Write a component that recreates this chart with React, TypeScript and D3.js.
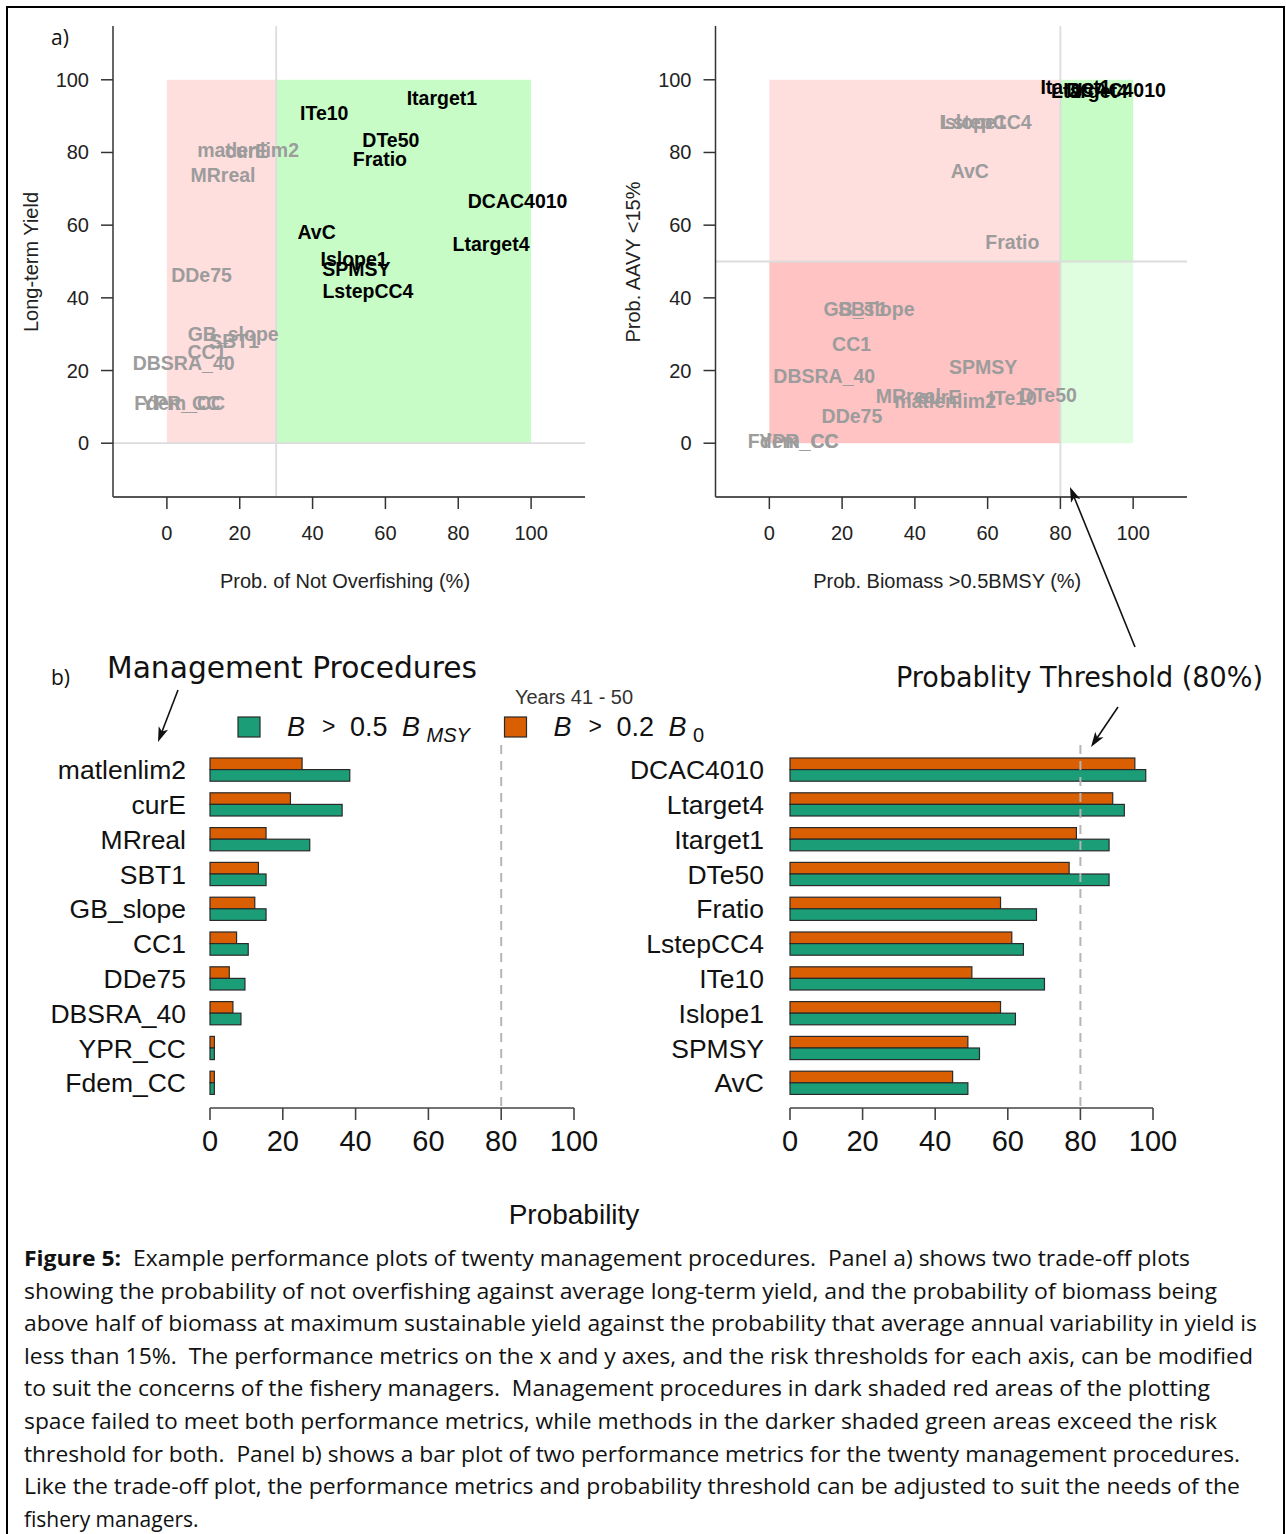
import React from "react";
import * as d3 from "d3";

const W = 1286;
const H = 1534;

// ---------- Panel a) trade-off data ----------
const tradeoffMPs = [
  "matlenlim2", "curE", "MRreal", "SBT1", "GB_slope", "CC1", "DDe75", "DBSRA_40", "YPR_CC", "Fdem_CC",
  "DCAC4010", "Ltarget4", "Itarget1", "DTe50", "Fratio", "LstepCC4", "ITe10", "Islope1", "SPMSY", "AvC",
];
const probNotOverfishing = [22.3, 21.9, 15.4, 18.5, 18.2, 11.0, 9.5, 4.6, 3.8, 3.5, 96.3, 89.0, 75.5, 61.5, 58.5, 55.2, 43.2, 51.4, 52.0, 41.1];
const longTermYield = [80.6, 80.4, 73.9, 28.0, 30.0, 25.0, 46.3, 22.2, 11.0, 11.2, 66.6, 54.8, 95.1, 83.5, 78.3, 41.8, 91.0, 50.7, 47.9, 58.1];
const probBiomassHalfBMSY = [48.3, 46.8, 38.2, 25.7, 27.4, 22.6, 22.7, 15.1, 8.1, 6.6, 95.3, 88.0, 84.2, 76.7, 66.8, 59.6, 66.9, 56.0, 58.8, 55.1];
const probAAVY15 = [11.7, 12.6, 12.9, 37.0, 36.9, 27.4, 7.4, 18.4, 0.5, 0.5, 97.1, 96.8, 98.0, 13.3, 55.3, 88.3, 12.4, 88.3, 21.0, 74.8];
const scatterTicks = [0, 20, 40, 60, 80, 100];

// ---------- Panel b) bar data ----------
const leftMPs = ["matlenlim2", "curE", "MRreal", "SBT1", "GB_slope", "CC1", "DDe75", "DBSRA_40", "YPR_CC", "Fdem_CC"];
const leftB02B0 = [25.3, 22.1, 15.4, 13.3, 12.3, 7.3, 5.3, 6.3, 1.2, 1.2];
const leftB05BMSY = [38.4, 36.3, 27.4, 15.4, 15.4, 10.5, 9.6, 8.5, 1.2, 1.2];
const rightMPs = ["DCAC4010", "Ltarget4", "Itarget1", "DTe50", "Fratio", "LstepCC4", "ITe10", "Islope1", "SPMSY", "AvC"];
const rightB02B0 = [95.0, 88.9, 78.9, 76.9, 58.0, 61.1, 50.1, 58.0, 49.0, 44.8];
const rightB05BMSY = [98.0, 92.1, 87.9, 87.9, 67.9, 64.3, 70.1, 62.1, 52.2, 49.0];
const barTicks = [0, 20, 40, 60, 80, 100];
const seriesKeys = ["b02", "b05"];
const threshold = 80;

const captionLines = [
  "showing the probability of not overfishing against average long-term yield, and the probability of biomass being",
  "above half of biomass at maximum sustainable yield against the probability that average annual variability in yield is",
  "less than 15%.  The performance metrics on the x and y axes, and the risk thresholds for each axis, can be modified",
  "to suit the concerns of the fishery managers.  Management procedures in dark shaded red areas of the plotting",
  "space failed to meet both performance metrics, while methods in the darker shaded green areas exceed the risk",
  "threshold for both.  Panel b) shows a bar plot of two performance metrics for the twenty management procedures.",
  "Like the trade-off plot, the performance metrics and probability threshold can be adjusted to suit the needs of the",
  "fishery managers.",
];
const captionEnds = [1217, 1257, 1253, 1210, 1217, 1240, 1240, 0];

const SANS = "'Liberation Sans', Arial, Helvetica, sans-serif";
const HUM = "'Open Sans', 'Noto Sans', sans-serif";
const TITLE = "'DejaVu Sans', Verdana, sans-serif";

const GREEN = "#1B9E77";
const ORANGE = "#D95F02";
const PINK = "#FFDEDE";
const RED = "#FFC3C3";
const LGREEN = "#C7FCC7";
const PGREEN = "#DFFDDF";
const GRAYTXT = "#9c9c9c";

function Scatter({ x0, x1, xs, ys, xThr, yThr, xTitle, yTitle, yTitleX }) {
  const xScale = d3.scaleLinear().domain([-14.8, 114.8]).range([x0, x1]);
  const yScale = d3.scaleLinear().domain([-14.8, 114.8]).range([497, 26]);
  const rects = [];
  if (yThr == null) {
    rects.push({ a: 0, b: xThr, c: 0, d: 100, fill: PINK });
    rects.push({ a: xThr, b: 100, c: 0, d: 100, fill: LGREEN });
  } else {
    rects.push({ a: 0, b: xThr, c: yThr, d: 100, fill: PINK });
    rects.push({ a: 0, b: xThr, c: 0, d: yThr, fill: RED });
    rects.push({ a: xThr, b: 100, c: yThr, d: 100, fill: LGREEN });
    rects.push({ a: xThr, b: 100, c: 0, d: yThr, fill: PGREEN });
  }
  const hY = yThr == null ? 0 : yThr;
  return (
    <g>
      {rects.map((r, i) => (
        <rect key={i} x={xScale(r.a)} y={yScale(r.d)} width={xScale(r.b) - xScale(r.a)} height={yScale(r.c) - yScale(r.d)} fill={r.fill} />
      ))}
      <line x1={xScale(xThr)} x2={xScale(xThr)} y1={26} y2={497} stroke="#dcdcdc" strokeWidth={1.8} />
      <line x1={x0} x2={x1} y1={yScale(hY)} y2={yScale(hY)} stroke="#dcdcdc" strokeWidth={1.8} />
      <line x1={x0} x2={x0} y1={26} y2={497} stroke="#333" strokeWidth={1.5} />
      <line x1={x0} x2={x1} y1={497} y2={497} stroke="#555" strokeWidth={2} />
      {scatterTicks.map((t) => (
        <g key={"x" + t}>
          <line x1={xScale(t)} x2={xScale(t)} y1={497} y2={509} stroke="#333" strokeWidth={1.5} />
          <text x={xScale(t)} y={540} textAnchor="middle" fontFamily={SANS} fontSize={20} fill="#222">{t}</text>
        </g>
      ))}
      {scatterTicks.map((t) => (
        <g key={"y" + t}>
          <line x1={x0} x2={x0 - 12} y1={yScale(t)} y2={yScale(t)} stroke="#333" strokeWidth={1.5} />
          <text x={x0 - 24} y={yScale(t) + 7} textAnchor="end" fontFamily={SANS} fontSize={20} fill="#222">{t}</text>
        </g>
      ))}
      <text x={(x0 + x1) / 2 - 4} y={588} textAnchor="middle" fontFamily={SANS} fontSize={20} fill="#222">{xTitle}</text>
      <text transform={`translate(${yTitleX},262) rotate(-90)`} textAnchor="middle" dominantBaseline="central" fontFamily={SANS} fontSize={20} fill="#222">{yTitle}</text>
      {tradeoffMPs.map((mp, i) => {
        const ok = xs[i] >= xThr && (yThr == null || ys[i] >= yThr);
        return (
          <text key={mp} x={xScale(xs[i])} y={yScale(ys[i])} dy="0.36em" textAnchor="middle" fontFamily={SANS} fontWeight="bold" fontSize={19.5} fill={ok ? "#000" : GRAYTXT}>
            {mp}
          </text>
        );
      })}
    </g>
  );
}

function Bars({ mps, b02, b05, x0, x1, labelX }) {
  const xScale = d3.scaleLinear().domain([0, 100]).range([x0, x1]);
  const yBand = d3.scaleBand().domain(mps).range([758, 1094.4]).paddingInner(1 / 3).paddingOuter(0);
  const inner = d3.scaleBand().domain(seriesKeys).range([0, yBand.bandwidth()]);
  const vals = { b02, b05 };
  const fills = { b02: ORANGE, b05: GREEN };
  return (
    <g>
      {mps.map((mp, i) => (
        <g key={mp}>
          <text x={labelX} y={yBand(mp) + inner.bandwidth() + 9.5} textAnchor="end" fontFamily={SANS} fontSize={26.5} fill="#111">{mp}</text>
          {seriesKeys.map((k) => (
            <rect key={k} x={xScale(0)} y={yBand(mp) + inner(k)} width={xScale(vals[k][i]) - xScale(0)} height={inner.bandwidth()} fill={fills[k]} stroke="#2a2a2a" strokeWidth={1.2} />
          ))}
        </g>
      ))}
      <line x1={xScale(threshold)} x2={xScale(threshold)} y1={745} y2={1108} stroke="#b5b5b5" strokeWidth={2} strokeDasharray="9,7" />
      <line x1={xScale(0)} x2={xScale(100)} y1={1108} y2={1108} stroke="#444" strokeWidth={1.6} />
      {barTicks.map((t) => (
        <g key={t}>
          <line x1={xScale(t)} x2={xScale(t)} y1={1108} y2={1120} stroke="#444" strokeWidth={1.6} />
          <text x={xScale(t)} y={1150.5} textAnchor="middle" fontFamily={SANS} fontSize={29} fill="#111">{t}</text>
        </g>
      ))}
    </g>
  );
}

function Arrow({ x1, y1, x2, y2 }) {
  const ang = Math.atan2(y2 - y1, x2 - x1);
  const L = 15;
  const hw = 5;
  const bx = x2 - L * Math.cos(ang);
  const by = y2 - L * Math.sin(ang);
  const px = -Math.sin(ang) * hw;
  const py = Math.cos(ang) * hw;
  const path = d3.path();
  path.moveTo(x2, y2);
  path.lineTo(bx + px, by + py);
  path.lineTo(bx + (x2 - bx) * 0.25, by + (y2 - by) * 0.25);
  path.lineTo(bx - px, by - py);
  path.closePath();
  return (
    <g>
      <line x1={x1} y1={y1} x2={bx + (x2 - bx) * 0.3} y2={by + (y2 - by) * 0.3} stroke="#111" strokeWidth={1.6} />
      <path d={path.toString()} fill="#111" />
    </g>
  );
}

function LegendItem({ x, color, num, sub }) {
  return (
    <g>
      <rect x={x} y={717} width={22} height={20} fill={color} stroke="#2a2a2a" strokeWidth={1.2} />
      <text x={x + 49} y={736} fontFamily={SANS} fontSize={27} fontStyle="italic" fill="#111">B</text>
      <text x={x + 84} y={734} fontFamily={SANS} fontSize={23} fill="#111">{">"}</text>
      <text x={x + 112} y={736} fontFamily={SANS} fontSize={27} fill="#111">{num}</text>
      <text x={x + 164} y={736} fontFamily={SANS} fontSize={27} fontStyle="italic" fill="#111">B</text>
      <text x={x + 188.5} y={742} fontFamily={SANS} fontSize={20} fontStyle={sub === "0" ? "normal" : "italic"} fill="#111">{sub}</text>
    </g>
  );
}

export default function App() {
  return (
    <svg width={W} height={H} viewBox={`0 0 ${W} ${H}`} style={{ position: "absolute", left: 0, top: 0, background: "#fff" }}>
      <rect x={0} y={0} width={W} height={H} fill="#fff" />
      <rect x={7} y={7} width={1277} height={1560} fill="none" stroke="#000" strokeWidth={2} />

      <text x={51} y={45} fontFamily={HUM} fontSize={21} fill="#111">a)</text>
      <Scatter x0={113} x1={585} xs={probNotOverfishing} ys={longTermYield} xThr={30} yThr={null} xTitle="Prob. of Not Overfishing (%)" yTitle="Long-term Yield" yTitleX={31} />
      <Scatter x0={715.5} x1={1187} xs={probBiomassHalfBMSY} ys={probAAVY15} xThr={80} yThr={50} xTitle="Prob. Biomass >0.5BMSY (%)" yTitle="Prob. AAVY <15%" yTitleX={633} />

      <text x={51} y={685} fontFamily={HUM} fontSize={21} fill="#111">b)</text>
      <text x={107} y={678} fontFamily={TITLE} fontSize={30} textLength={370} lengthAdjust="spacingAndGlyphs" fill="#111">Management Procedures</text>
      <text x={896} y={687} fontFamily={TITLE} fontSize={28} textLength={367} lengthAdjust="spacingAndGlyphs" fill="#111">Probablity Threshold (80%)</text>
      <Arrow x1={178} y1={690} x2={158} y2={742} />
      <Arrow x1={1118} y1={707} x2={1091} y2={747} />
      <Arrow x1={1135} y1={647} x2={1070} y2={487} />

      <text x={574} y={704} textAnchor="middle" fontFamily={SANS} fontSize={20} fill="#333">Years 41 - 50</text>
      <LegendItem x={238} color={GREEN} num="0.5" sub="MSY" />
      <LegendItem x={504.5} color={ORANGE} num="0.2" sub="0" />

      <Bars mps={leftMPs} b02={leftB02B0} b05={leftB05BMSY} x0={210} x1={574} labelX={186} />
      <Bars mps={rightMPs} b02={rightB02B0} b05={rightB05BMSY} x0={790} x1={1153} labelX={764} />
      <text x={574} y={1224} textAnchor="middle" fontFamily={SANS} fontSize={28} fill="#111">Probability</text>

      <text x={24} y={1266} fontFamily={HUM} fontSize={21} fill="#111" textLength={1166} lengthAdjust="spacingAndGlyphs" style={{ whiteSpace: "pre" }}>
        <tspan fontWeight="bold">Figure 5:</tspan>
        <tspan>{"  Example performance plots of twenty management procedures.  Panel a) shows two trade-off plots"}</tspan>
      </text>
      {captionLines.map((line, i) => (
        <text key={i} x={24} y={1266 + (i + 1) * 32.6} fontFamily={HUM} fontSize={21} fill="#111"
          textLength={captionEnds[i] ? captionEnds[i] - 24 : undefined} lengthAdjust="spacingAndGlyphs" style={{ whiteSpace: "pre" }}>
          {line}
        </text>
      ))}
    </svg>
  );
}
